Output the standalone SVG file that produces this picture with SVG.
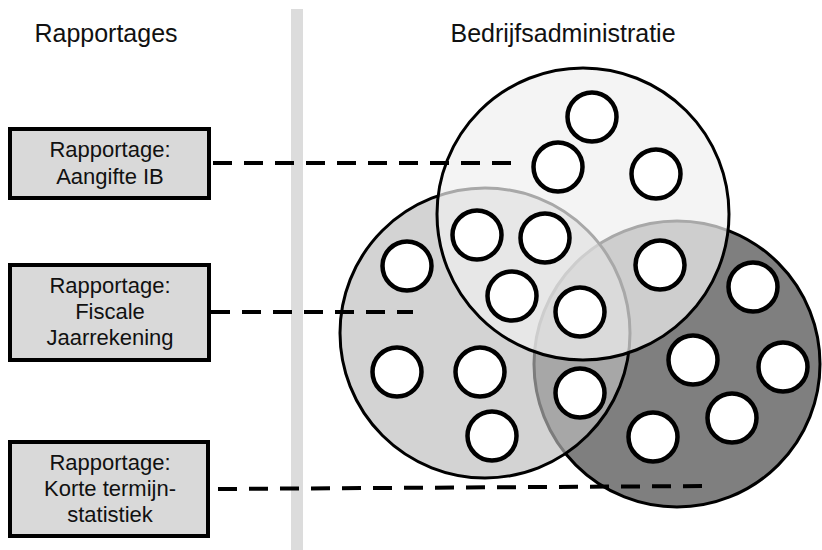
<svg xmlns="http://www.w3.org/2000/svg" width="822" height="550" viewBox="0 0 822 550">
  <style>
    .title { font-family: "Liberation Sans", Arial, sans-serif; font-size: 25px; fill: #111; text-anchor: middle; }
    .label { font-family: "Liberation Sans", Arial, sans-serif; font-size: 22px; fill: #111; text-anchor: middle; }
    .box { fill: #d9d9d9; stroke: #000; stroke-width: 4; }
    .set { stroke: #000; stroke-width: 3; }
    .item { fill: #fff; stroke: #000; stroke-width: 4.5; }
    .link { stroke: #000; stroke-width: 4; stroke-dasharray: 19 12; fill: none; }
  </style>

  <rect width="822" height="550" fill="#fff"/>

  <!-- column divider -->
  <rect x="291" y="9" width="12" height="541" fill="#dcdcdc"/>

  <!-- column headings -->
  <text class="title" x="106" y="42">Rapportages</text>
  <text class="title" x="563" y="42">Bedrijfsadministratie</text>

  <!-- report boxes -->
  <g id="rapport-ib">
    <rect class="box" x="10" y="129" width="199" height="69"/>
    <text class="label" x="110" y="157">Rapportage:</text>
    <text class="label" x="110" y="184">Aangifte IB</text>
  </g>
  <g id="rapport-fiscaal">
    <rect class="box" x="10" y="265" width="199" height="95"/>
    <text class="label" x="110" y="293">Rapportage:</text>
    <text class="label" x="110" y="319">Fiscale</text>
    <text class="label" x="110" y="345">Jaarrekening</text>
  </g>
  <g id="rapport-kt">
    <rect class="box" x="10" y="442" width="198" height="94"/>
    <text class="label" x="110" y="470">Rapportage:</text>
    <text class="label" x="110" y="496">Korte termijn-</text>
    <text class="label" x="110" y="522">statistiek</text>
  </g>

  <!-- administration sets -->
  <g id="set-rechts">
    <circle class="set" cx="677" cy="364" r="143" fill="#7f7f7f"/>
  </g>
  <g id="set-links">
    <circle class="set" cx="485" cy="333" r="145" fill="#bcbcbc" fill-opacity="0.66"/>
  </g>
  <g id="set-boven">
    <circle class="set" cx="583" cy="214" r="146" fill="#f0f0f0" fill-opacity="0.7"/>
  </g>

  <!-- data items -->
  <g id="items">
    <circle class="item" cx="592" cy="117" r="24.5"/>
    <circle class="item" cx="558" cy="167" r="24.5"/>
    <circle class="item" cx="656" cy="174" r="24.5"/>
    <circle class="item" cx="477" cy="235" r="24.5"/>
    <circle class="item" cx="545" cy="238" r="24.5"/>
    <circle class="item" cx="512" cy="296" r="24.5"/>
    <circle class="item" cx="580" cy="312" r="24.5"/>
    <circle class="item" cx="660" cy="265" r="24.5"/>
    <circle class="item" cx="407" cy="266" r="24.5"/>
    <circle class="item" cx="397" cy="372" r="24.5"/>
    <circle class="item" cx="480" cy="372" r="24.5"/>
    <circle class="item" cx="492" cy="436" r="24.5"/>
    <circle class="item" cx="580" cy="393" r="24.5"/>
    <circle class="item" cx="753" cy="287" r="24.5"/>
    <circle class="item" cx="693" cy="360" r="24.5"/>
    <circle class="item" cx="783" cy="367" r="24.5"/>
    <circle class="item" cx="732" cy="418" r="24.5"/>
    <circle class="item" cx="653" cy="437" r="24.5"/>
  </g>

  <!-- connectors -->
  <g id="connectors">
    <line class="link" x1="213" y1="163" x2="512" y2="163"/>
    <line class="link" x1="211" y1="312" x2="413" y2="312"/>
    <line class="link" x1="218" y1="489" x2="706" y2="486"/>
  </g>
</svg>
